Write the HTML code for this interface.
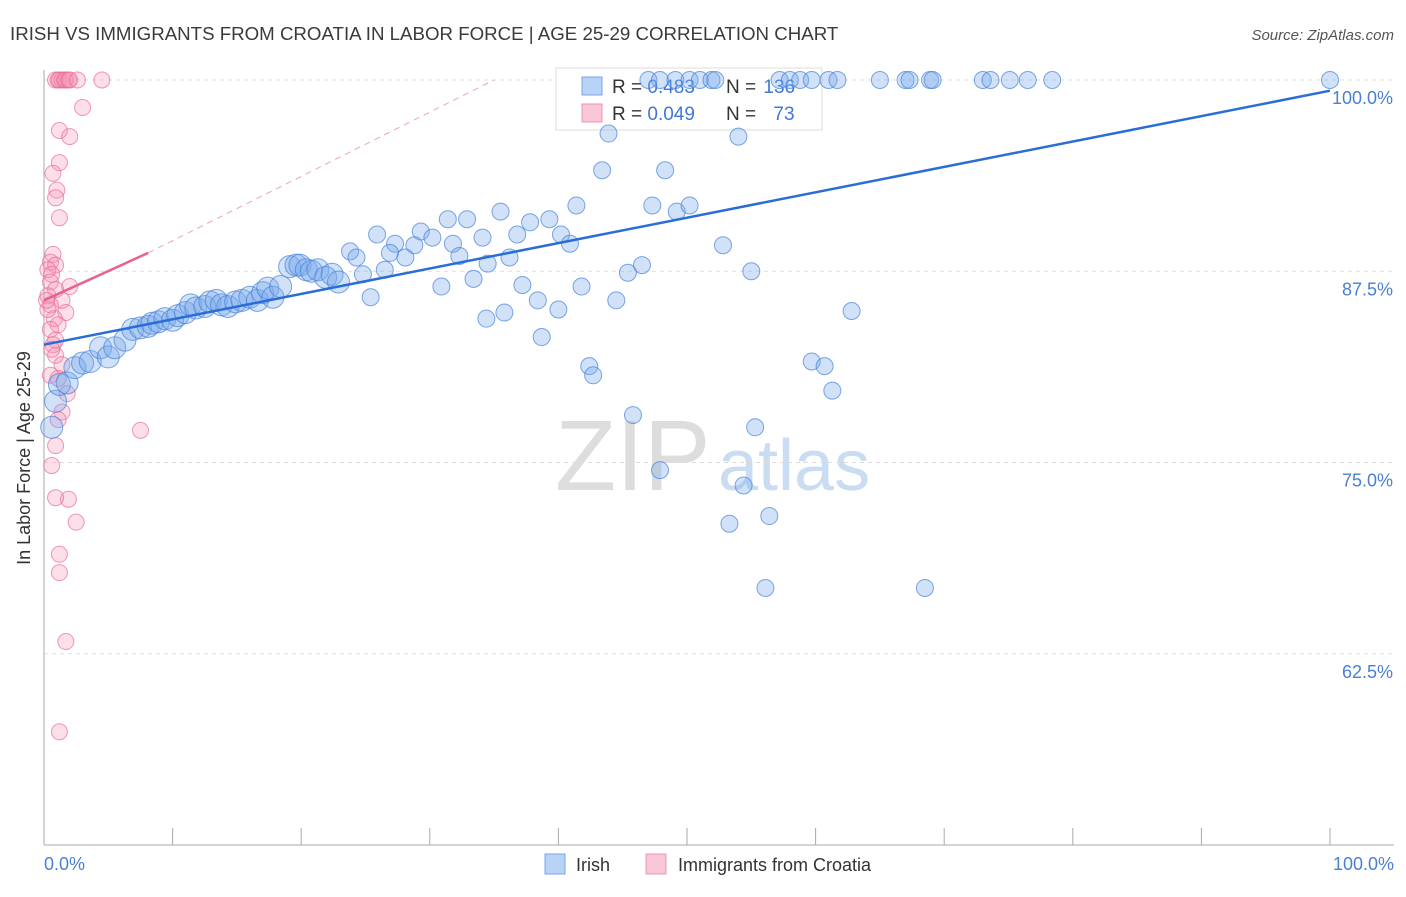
<!DOCTYPE html>
<html><head><meta charset="utf-8"><style>
body{margin:0;background:#fff;font-family:"Liberation Sans",sans-serif;}
svg text{font-family:"Liberation Sans",sans-serif;}
</style></head><body>
<svg id="chart" width="1406" height="892" xmlns="http://www.w3.org/2000/svg">
<text x="10" y="40" font-size="18.7" fill="#3a3a3a">IRISH VS IMMIGRANTS FROM CROATIA IN LABOR FORCE | AGE 25-29 CORRELATION CHART</text>
<text x="1394" y="40" font-size="15" fill="#555" font-style="italic" text-anchor="end">Source: ZipAtlas.com</text>
<g><text x="555" y="490" font-size="100" fill="#ddd" font-family="Liberation Serif">ZIP</text><text x="718" y="490" font-size="72" fill="#c9dcf2">atlas</text></g>
<g id="grid"></g><g id="axes"></g>
<g>
<rect x="556" y="68" width="266" height="62" fill="#fff" stroke="#ddd"/>
<rect x="582" y="77" width="20" height="18" fill="#b8d3f5" stroke="#7aa6e6"/>
<rect x="582" y="104" width="20" height="18" fill="#f9c6d6" stroke="#ee93b0"/>
<text x="612" y="93" font-size="19" fill="#333">R = <tspan fill="#3f78d8">0.483</tspan></text>
<text x="726" y="93" font-size="19" fill="#333">N = <tspan fill="#3f78d8" dx="2">136</tspan></text>
<text x="612" y="120" font-size="19" fill="#333">R = <tspan fill="#3f78d8">0.049</tspan></text>
<text x="726" y="120" font-size="19" fill="#333">N = <tspan fill="#3f78d8" dx="12">73</tspan></text>
</g>
<g id="pink"></g><g id="blue"></g><g id="lines"></g>
<text x="30" y="458" font-size="18" fill="#333" transform="rotate(-90 30 458)" text-anchor="middle">In Labor Force | Age 25-29</text>
<text x="44" y="870" font-size="18" fill="#4a7fd4">0.0%</text>
<text x="1394" y="870" font-size="18" fill="#4a7fd4" text-anchor="end">100.0%</text>
<g>
<rect x="545" y="854" width="20" height="20" fill="#b8d3f5" stroke="#7aa6e6"/>
<text x="576" y="871" font-size="18" fill="#333">Irish</text>
<rect x="646" y="854" width="20" height="20" fill="#f9c6d6" stroke="#ee93b0"/>
<text x="678" y="871" font-size="18" fill="#333">Immigrants from Croatia</text>
</g>
</svg>
<script>
const yTicks=[100,87.5,75,62.5];
const yTickLabels=["100.0%","87.5%","75.0%","62.5%"];
const xTicks=[0,10,20,30,40,50,60,70,80,90,100];
const blueTop=[47.0,47.9,49.1,50.2,51.0,51.9,52.2,57.2,58.0,58.8,59.7,61.0,61.7,65.0,67.0,67.3,68.9,69.1,73.0,73.6,75.1,76.5,78.4,100];
const blueX=[43.9,43.4,48.3,54.0,47.3,49.2,50.2,41.4,39.3,37.8,35.5,32.9,31.4,29.3,30.2,25.9,27.3,28.8,31.8,34.1,36.8,40.2,40.9,26.9,28.1,23.8,24.3,32.3,34.5,36.2,46.5,45.4,52.8,55.0,26.5,24.8,33.4,30.9,37.2,41.8,38.4,44.5,25.4,40.0,35.8,34.4,62.8,38.7,42.4,42.7,59.7,60.7,61.3,45.8,55.3,47.9,54.4,53.3,56.4,56.1,68.5];
const blueY=[96.5,94.1,94.1,96.3,91.8,91.4,91.8,91.8,90.9,90.7,91.4,90.9,90.9,90.1,89.7,89.9,89.3,89.2,89.3,89.7,89.9,89.9,89.3,88.7,88.4,88.8,88.4,88.5,88.0,88.4,87.9,87.4,89.2,87.5,87.6,87.3,87.0,86.5,86.6,86.5,85.6,85.6,85.8,85.0,84.8,84.4,84.9,83.2,81.3,80.7,81.6,81.3,79.7,78.1,77.3,74.5,73.5,71.0,71.5,66.8,66.8];
const clusterX=[0.6,0.9,1.2,1.8,2.4,3.0,3.6,4.4,5.0,5.5,6.3,6.9,7.5,8.1,8.4,8.9,9.4,10.0,10.4,11.0,11.4,11.8,12.5,12.9,13.4,13.8,14.3,14.9,15.4,16.0,16.6,17.0,17.4,17.8,18.4,19.1,19.6,19.9,20.4,20.8,21.3,21.9,22.4,22.9];
const clusterY=[77.3,79.0,80.1,80.2,81.2,81.5,81.6,82.5,81.9,82.5,83.0,83.7,83.8,83.9,84.1,84.2,84.4,84.3,84.6,84.8,85.3,85.1,85.2,85.5,85.6,85.3,85.2,85.5,85.6,85.8,85.6,86.1,86.4,85.8,86.5,87.8,87.9,87.9,87.6,87.5,87.6,87.1,87.3,86.8];
const pinkTop=[0.9,1.1,1.2,1.4,1.6,1.7,1.9,2.0,2.6,4.5];
const pinkX=[3.0,1.2,2.0,1.2,0.7,1.0,0.9,1.2,0.7,0.5,0.9,0.3,0.6,0.5,2.0,0.9,0.3,1.4,0.5,1.7,0.8,1.1,0.5,0.9,0.7,0.9,1.4,0.5,1.1,1.8,1.4,1.1,0.9,0.6,1.9,0.9,2.5,1.2,1.2,7.5,1.7,1.2,0.3,0.6,0.2];
const pinkY=[98.2,96.7,96.3,94.6,93.9,92.8,92.3,91.0,88.6,88.1,87.9,87.6,87.3,86.8,86.5,86.3,85.9,85.6,85.3,84.8,84.4,84.0,83.7,83.0,82.7,82.0,81.4,80.7,80.5,79.5,78.3,77.8,76.1,74.8,72.6,72.7,71.1,69.0,67.8,77.1,63.3,57.4,85.0,82.4,85.6];
const blueFit=[[0,82.7],[100,99.3]];
const pinkFit=[[0,85.6],[8.1,88.7]];
const pinkDash=[[8.1,88.7],[35,100]];
const NS="http://www.w3.org/2000/svg";
const sx=v=>44+v*12.86, sy=v=>80+(100-v)*15.3;
function mk(tag,attrs,parent){const e=document.createElementNS(NS,tag);for(const k in attrs)e.setAttribute(k,attrs[k]);document.getElementById(parent).appendChild(e);return e;}
yTicks.forEach((t,i)=>{
 const g=mk('line',{x1:44,x2:1394,y1:sy(t),y2:sy(t),stroke:'#ddd','stroke-dasharray':'4,4'},'grid');
 
 
 const l=mk('text',{x:1393,y:sy(t)+24,'font-size':18,fill:'#4a7fd4','text-anchor':'end'},'grid');
 l.textContent=yTickLabels[i];
 
 
});
const ya=mk('line',{x1:44,x2:44,y1:70,y2:845,stroke:'#aaa'},'axes');


const xa=mk('line',{x1:44,x2:1394,y1:845,y2:845,stroke:'#aaa'},'axes');


xTicks.forEach(t=>{
 const k=mk('line',{x1:sx(t),x2:sx(t),y1:828,y2:845,stroke:'#aaa'},'axes');
 
 
});
function dot(x,y,r,fill,stroke,g,name){
 const c=mk('circle',{cx:sx(x),cy:sy(y),r:r,fill:fill,stroke:stroke,'stroke-width':1},g);
 
 
}
const pf='rgba(245,150,180,0.3)',ps='rgba(232,110,150,0.7)';
pinkTop.forEach(x=>dot(x,100,8,pf,ps,'pink','croatia-point'));
pinkX.forEach((x,i)=>dot(x,pinkY[i],8,pf,ps,'pink','croatia-point'));
const bf='rgba(120,170,235,0.35)',bs='rgba(70,130,220,0.7)';
blueTop.forEach(x=>dot(x,100,8.5,bf,bs,'blue','irish-point'));
blueX.forEach((x,i)=>dot(x,blueY[i],8.5,bf,bs,'blue','irish-point'));
clusterX.forEach((x,i)=>dot(x,clusterY[i],11,bf,bs,'blue','irish-point'));
const bl=mk('line',{x1:sx(blueFit[0][0]),y1:sy(blueFit[0][1]),x2:sx(blueFit[1][0]),y2:sy(blueFit[1][1]),stroke:'#2a6dd6','stroke-width':2.5},'lines');


const pl=mk('line',{x1:sx(pinkFit[0][0]),y1:sy(pinkFit[0][1]),x2:sx(pinkFit[1][0]),y2:sy(pinkFit[1][1]),stroke:'#e8628e','stroke-width':2.5},'lines');


const pd=mk('line',{x1:sx(pinkDash[0][0]),y1:sy(pinkDash[0][1]),x2:sx(pinkDash[1][0]),y2:sy(pinkDash[1][1]),stroke:'#f0a0bb','stroke-width':1,'stroke-dasharray':'6,5'},'lines');


</script>
</body></html>
